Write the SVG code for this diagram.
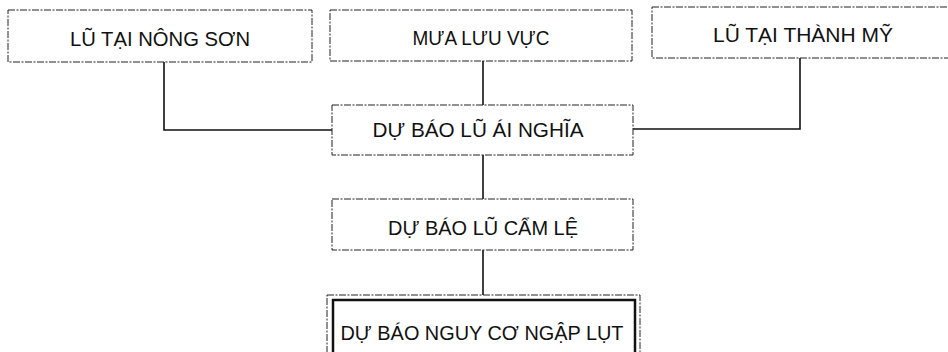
<svg xmlns="http://www.w3.org/2000/svg" width="948" height="352" viewBox="0 0 948 352">
<style>
.box{fill:#fff;stroke:#222;stroke-width:1;stroke-dasharray:7 1.5 2 1.5}
.thick{fill:none;stroke:#111;stroke-width:2.5}
.lbl{font-family:"Liberation Sans Narrow","Liberation Sans",Arial,sans-serif;font-size:21px;fill:#111;text-anchor:middle}
.conn{fill:none;stroke:#111;stroke-width:1.6}
</style>
<rect width="948" height="352" fill="#fff"/>
<g id="connectors">
<polyline class="conn" points="164,62 164,130 332,130"/>
<line class="conn" x1="483" y1="61" x2="483" y2="105"/>
<polyline class="conn" points="633,129 800,129 800,58"/>
<line class="conn" x1="483" y1="155" x2="483" y2="199"/>
<line class="conn" x1="483" y1="250" x2="483" y2="295"/>
</g>
<g id="node-nong-son">
<rect class="box" x="8" y="10" width="304" height="52"/>
<text class="lbl" x="160" y="46" textLength="180" lengthAdjust="spacingAndGlyphs">LŨ TẠI NÔNG SƠN</text>
</g>
<g id="node-mua-luu-vuc">
<rect class="box" x="330" y="10" width="302" height="51"/>
<text class="lbl" x="481" y="45" textLength="137" lengthAdjust="spacingAndGlyphs">MƯA LƯU VỰC</text>
</g>
<g id="node-thanh-my">
<rect class="box" x="652" y="7" width="310" height="51"/>
<text class="lbl" x="803" y="42" textLength="180" lengthAdjust="spacingAndGlyphs">LŨ TẠI THÀNH MỸ</text>
</g>
<g id="node-ai-nghia">
<rect class="box" x="332" y="105" width="301" height="50"/>
<text class="lbl" x="478" y="137" textLength="211" lengthAdjust="spacingAndGlyphs">DỰ BÁO LŨ ÁI NGHĨA</text>
</g>
<g id="node-cam-le">
<rect class="box" x="332" y="199" width="301" height="51"/>
<text class="lbl" x="483" y="235" textLength="190" lengthAdjust="spacingAndGlyphs">DỰ BÁO LŨ CẨM LỆ</text>
</g>
<g id="node-ngap-lut">
<rect class="box" x="327" y="295" width="313" height="70"/>
<rect class="thick" x="333" y="300" width="302" height="60"/>
<text class="lbl" x="482" y="340" textLength="283" lengthAdjust="spacingAndGlyphs">DỰ BÁO NGUY CƠ NGẬP LỤT</text>
</g>
</svg>
